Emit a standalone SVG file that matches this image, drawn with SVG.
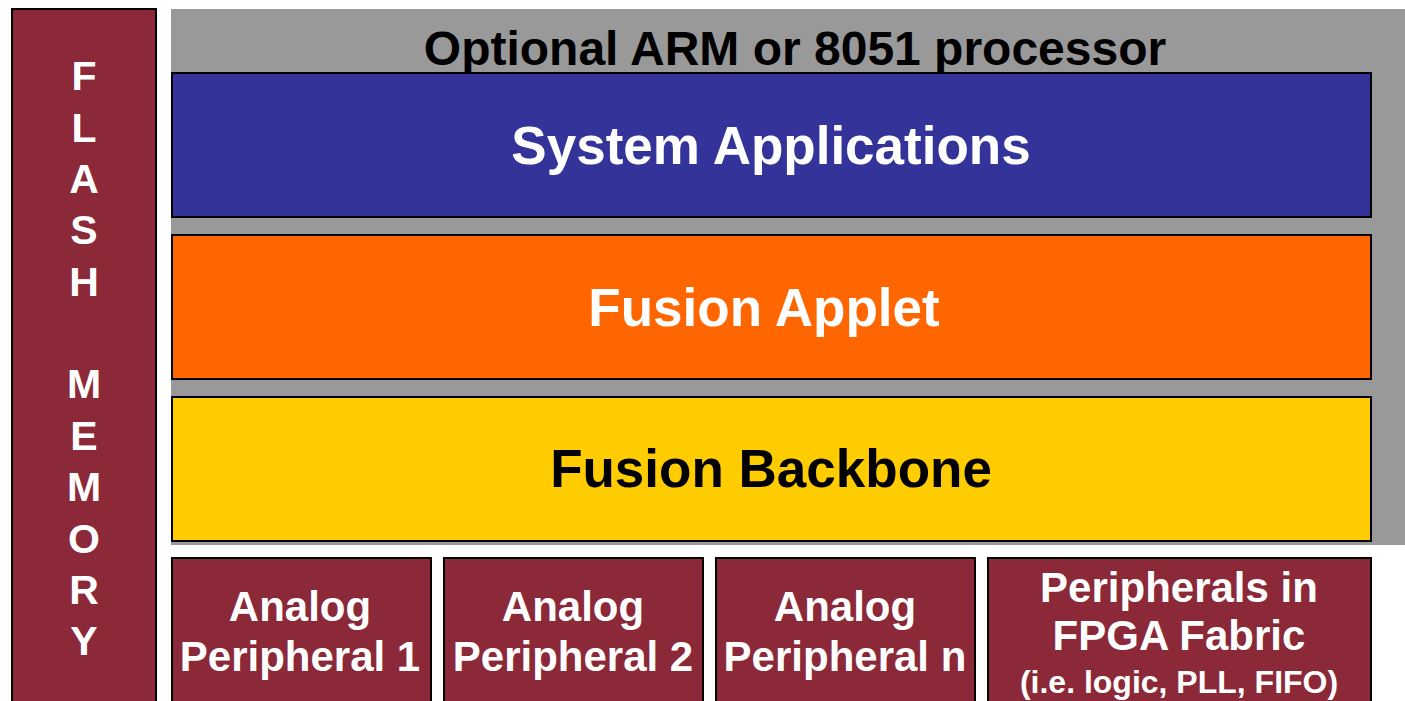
<svg xmlns="http://www.w3.org/2000/svg" width="1405" height="701" viewBox="0 0 1405 701">
<style>
text{font-family:"Liberation Sans",Arial,sans-serif;font-weight:bold;text-anchor:middle}
.box{stroke:#000;stroke-width:2}
.maroon{fill:#8B2939}
.w{fill:#fff}
.k{fill:#000}
</style>
<rect width="1405" height="701" fill="#fff"/>
<g id="flash-memory">
<rect class="box maroon" x="12" y="9" width="144" height="700"/>
<text class="w" font-size="41" x="84" y="90">F</text>
<text class="w" font-size="41" x="84" y="142">L</text>
<text class="w" font-size="41" x="84" y="193">A</text>
<text class="w" font-size="41" x="84" y="244">S</text>
<text class="w" font-size="41" x="84" y="296">H</text>
<text class="w" font-size="41" x="84" y="398">M</text>
<text class="w" font-size="41" x="84" y="450">E</text>
<text class="w" font-size="41" x="84" y="501">M</text>
<text class="w" font-size="41" x="84" y="553">O</text>
<text class="w" font-size="41" x="84" y="604">R</text>
<text class="w" font-size="41" x="84" y="655">Y</text>
</g>
<g id="processor">
<rect x="171" y="9" width="1234" height="536" fill="#999999"/>
<text class="k" font-size="48" x="795" y="65">Optional ARM or 8051 processor</text>
</g>
<g id="system-applications">
<rect class="box" x="172" y="73" width="1199" height="144" fill="#333399"/>
<text class="w" font-size="53" x="771" y="164">System Applications</text>
</g>
<g id="fusion-applet">
<rect class="box" x="172" y="235" width="1199" height="144" fill="#FF6600"/>
<text class="w" font-size="53" x="764" y="326">Fusion Applet</text>
</g>
<g id="fusion-backbone">
<rect class="box" x="172" y="397" width="1199" height="144" fill="#FFCC00"/>
<text class="k" font-size="53" x="771" y="487">Fusion Backbone</text>
</g>
<g id="analog-1">
<rect class="box maroon" x="172" y="558" width="259" height="150"/>
<text class="w" font-size="42" x="300" y="621">Analog</text>
<text class="w" font-size="42" x="300" y="671">Peripheral 1</text>
</g>
<g id="analog-2">
<rect class="box maroon" x="444" y="558" width="259" height="150"/>
<text class="w" font-size="42" x="573" y="621">Analog</text>
<text class="w" font-size="42" x="573" y="671">Peripheral 2</text>
</g>
<g id="analog-n">
<rect class="box maroon" x="716" y="558" width="259" height="150"/>
<text class="w" font-size="42" x="845" y="621">Analog</text>
<text class="w" font-size="42" x="845" y="671">Peripheral n</text>
</g>
<g id="fpga-peripherals">
<rect class="box maroon" x="988" y="558" width="383" height="150"/>
<text class="w" font-size="42" x="1179" y="602">Peripherals in</text>
<text class="w" font-size="42" x="1179" y="650">FPGA Fabric</text>
<text class="w" font-size="32" x="1179" y="693">(i.e. logic, PLL, FIFO)</text>
</g>
<g id="connectors"/>
</svg>
